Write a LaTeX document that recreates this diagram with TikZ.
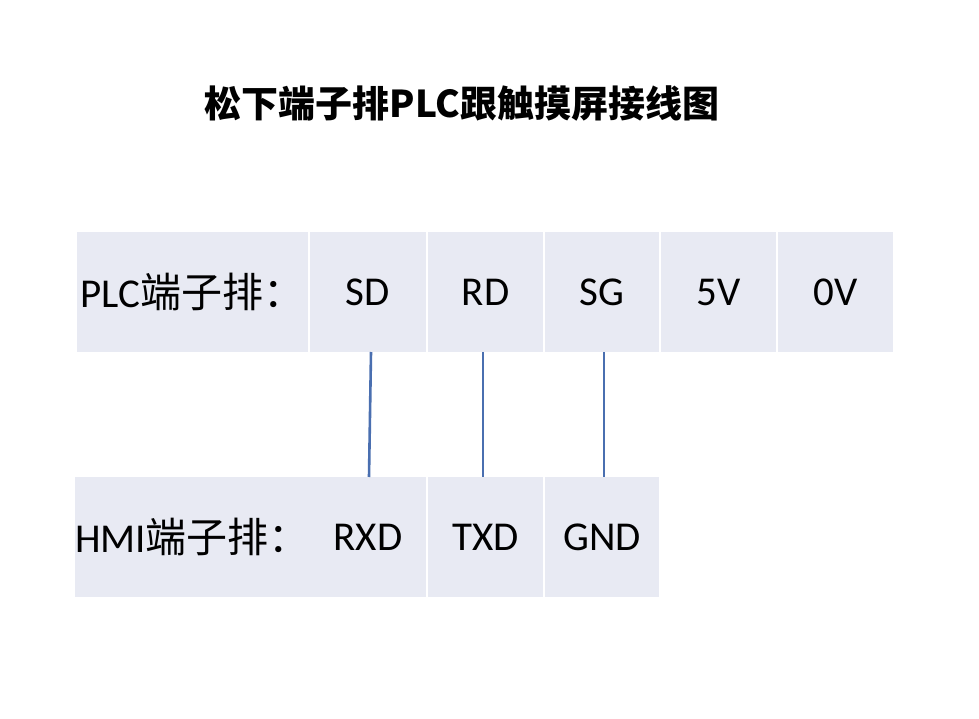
\documentclass[tikz,border=0pt]{standalone}
\usepackage{fontspec}
\setmainfont{Carlito}
\newfontfamily\cjk{Noto Sans CJK SC}
\definecolor{cellc}{HTML}{E8EAF3}
\definecolor{linec}{HTML}{4A6FB0}
\begin{document}
\begin{tikzpicture}[x=1pt,y=-1pt,
  cell/.style={fill=cellc,draw=none,inner sep=0pt,font=\fontsize{41}{44}\selectfont},
  wire/.style={draw=linec,line width=2.6pt}]
\useasboundingbox[fill=white] (0,0) rectangle (979,719);
\node[font=\cjk\bfseries\fontsize{37}{40}\selectfont] (title) at (462,103) {松下端子排PLC跟触摸屏接线图};
% top row
\node[cell,minimum width=231pt,minimum height=120pt] (p0) at (192.5,292) {PLC{\cjk 端子排：}};
\node[cell,minimum width=116pt,minimum height=120pt] (sd) at (368,292) {SD};
\node[cell,minimum width=115pt,minimum height=120pt] (rd) at (485.5,292) {RD};
\node[cell,minimum width=114pt,minimum height=120pt] (sg) at (602,292) {SG};
\node[cell,minimum width=115pt,minimum height=120pt] (v5) at (718.5,292) {5V};
\node[cell,minimum width=115pt,minimum height=120pt] (v0) at (835.5,292) {0V};
% bottom row
\node[cell,minimum width=231pt,minimum height=120pt] (h0) at (192.5,537) {HMI{\cjk 端子排：}};
\node[cell,minimum width=116pt,minimum height=120pt] (rxd) at (368,537) {RXD};
\node[cell,minimum width=115pt,minimum height=120pt] (txd) at (485.5,537) {TXD};
\node[cell,minimum width=114pt,minimum height=120pt] (gnd) at (602,537) {GND};
% wires
\coordinate (a1) at (371,352); \coordinate (a2) at (369,477);
\coordinate (b1) at (483,352); \coordinate (b2) at (483,477);
\coordinate (c1) at (604,352); \coordinate (c2) at (604,477);
\draw[wire] (a1) -- (a2);
\draw[wire] (b1) -- (b2);
\draw[wire] (c1) -- (c2);
\end{tikzpicture}
\end{document}
